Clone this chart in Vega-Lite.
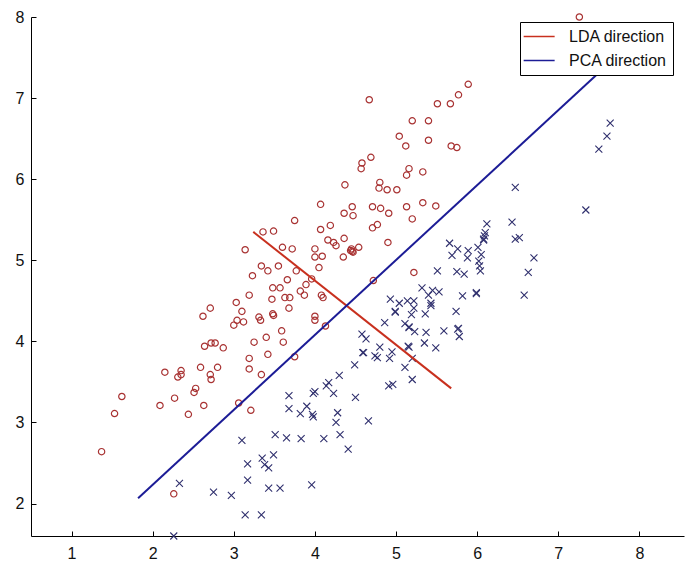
{
  "$schema": "https://vega.github.io/schema/vega-lite/v6.json",
  "width": 653,
  "height": 519,
  "autosize": {"type": "none"},
  "padding": {"left": 31, "top": 17, "right": 1, "bottom": 25},
  "background": "white",
  "config": {
    "view": {"stroke": null},
    "font": "Liberation Sans",
    "axis": {
      "grid": false,
      "domainColor": "#000000",
      "domainWidth": 1,
      "tickColor": "#000000",
      "tickSize": -5,
      "tickWidth": 1,
      "labelColor": "#111111",
      "labelFont": "Liberation Sans",
      "labelFontSize": 16,
      "format": "d",
      "title": null
    }
  },
  "datasets": {
    "red": [
      {"x": 7.26, "y": 8.0}, {"x": 5.89, "y": 7.17}, {"x": 5.77, "y": 7.04}, {"x": 5.67, "y": 6.93}, {"x": 5.51, "y": 6.93},
      {"x": 4.67, "y": 6.98}, {"x": 5.20, "y": 6.72}, {"x": 5.40, "y": 6.72}, {"x": 5.04, "y": 6.53}, {"x": 5.12, "y": 6.41},
      {"x": 5.40, "y": 6.48}, {"x": 5.68, "y": 6.41}, {"x": 5.75, "y": 6.39}, {"x": 4.69, "y": 6.27}, {"x": 4.58, "y": 6.20},
      {"x": 4.57, "y": 6.13}, {"x": 5.16, "y": 6.13}, {"x": 5.33, "y": 6.09}, {"x": 5.13, "y": 6.05}, {"x": 4.37, "y": 5.93},
      {"x": 4.80, "y": 5.96}, {"x": 4.79, "y": 5.89}, {"x": 4.89, "y": 5.87}, {"x": 5.01, "y": 5.87}, {"x": 4.07, "y": 5.69},
      {"x": 4.46, "y": 5.66}, {"x": 4.71, "y": 5.66}, {"x": 4.81, "y": 5.64}, {"x": 5.13, "y": 5.66}, {"x": 5.33, "y": 5.71},
      {"x": 5.49, "y": 5.67}, {"x": 4.36, "y": 5.58}, {"x": 4.47, "y": 5.55}, {"x": 4.91, "y": 5.58}, {"x": 5.20, "y": 5.51},
      {"x": 3.75, "y": 5.49}, {"x": 4.77, "y": 5.44}, {"x": 4.71, "y": 5.40}, {"x": 4.19, "y": 5.43}, {"x": 4.07, "y": 5.38},
      {"x": 3.36, "y": 5.35}, {"x": 3.49, "y": 5.36}, {"x": 3.14, "y": 5.13}, {"x": 3.60, "y": 5.16}, {"x": 3.72, "y": 5.14},
      {"x": 4.00, "y": 5.14}, {"x": 4.16, "y": 5.25}, {"x": 4.23, "y": 5.22}, {"x": 4.26, "y": 5.18}, {"x": 4.36, "y": 5.27},
      {"x": 4.54, "y": 5.16}, {"x": 4.45, "y": 5.14}, {"x": 4.47, "y": 5.10}, {"x": 4.35, "y": 5.04}, {"x": 4.09, "y": 5.05},
      {"x": 4.00, "y": 5.04}, {"x": 4.90, "y": 5.22}, {"x": 3.34, "y": 4.93}, {"x": 3.55, "y": 4.93}, {"x": 3.42, "y": 4.87},
      {"x": 3.23, "y": 4.81}, {"x": 3.77, "y": 4.87}, {"x": 4.05, "y": 4.91}, {"x": 5.22, "y": 4.85}, {"x": 3.66, "y": 4.76},
      {"x": 3.96, "y": 4.77}, {"x": 3.89, "y": 4.70}, {"x": 3.48, "y": 4.66}, {"x": 3.57, "y": 4.66}, {"x": 3.19, "y": 4.57},
      {"x": 3.82, "y": 4.62}, {"x": 3.87, "y": 4.57}, {"x": 4.08, "y": 4.57}, {"x": 4.10, "y": 4.54}, {"x": 3.47, "y": 4.52},
      {"x": 3.63, "y": 4.54}, {"x": 3.69, "y": 4.54}, {"x": 3.03, "y": 4.48}, {"x": 3.68, "y": 4.41}, {"x": 2.71, "y": 4.41},
      {"x": 2.62, "y": 4.31}, {"x": 3.48, "y": 4.34}, {"x": 3.49, "y": 4.32}, {"x": 3.31, "y": 4.30}, {"x": 3.33, "y": 4.26},
      {"x": 3.10, "y": 4.37}, {"x": 3.04, "y": 4.26}, {"x": 4.00, "y": 4.31}, {"x": 4.00, "y": 4.26}, {"x": 3.00, "y": 4.20},
      {"x": 3.12, "y": 4.24}, {"x": 3.59, "y": 4.13}, {"x": 3.40, "y": 4.05}, {"x": 3.25, "y": 3.99}, {"x": 3.61, "y": 3.99},
      {"x": 2.72, "y": 3.98}, {"x": 2.77, "y": 3.98}, {"x": 2.64, "y": 3.94}, {"x": 2.87, "y": 3.92}, {"x": 3.42, "y": 3.84},
      {"x": 3.75, "y": 3.81}, {"x": 3.19, "y": 3.79}, {"x": 2.59, "y": 3.68}, {"x": 2.80, "y": 3.68}, {"x": 3.19, "y": 3.66},
      {"x": 2.15, "y": 3.62}, {"x": 2.35, "y": 3.64}, {"x": 2.35, "y": 3.59}, {"x": 2.31, "y": 3.56}, {"x": 2.71, "y": 3.59},
      {"x": 2.72, "y": 3.53}, {"x": 3.34, "y": 3.59}, {"x": 2.53, "y": 3.42}, {"x": 2.51, "y": 3.37}, {"x": 1.62, "y": 3.32},
      {"x": 2.09, "y": 3.21}, {"x": 2.27, "y": 3.30}, {"x": 2.63, "y": 3.21}, {"x": 2.44, "y": 3.10}, {"x": 1.53, "y": 3.11},
      {"x": 3.06, "y": 3.24}, {"x": 3.21, "y": 3.15}, {"x": 1.37, "y": 2.64}, {"x": 2.26, "y": 2.12}, {"x": 4.72, "y": 4.75},
      {"x": 4.13, "y": 4.19}, {"x": 4.44, "y": 5.12}, {"x": 4.46, "y": 5.11}
    ],
    "blue": [
      {"x": 7.64, "y": 6.69}, {"x": 7.60, "y": 6.53}, {"x": 7.50, "y": 6.37}, {"x": 7.34, "y": 5.62}, {"x": 6.47, "y": 5.90},
      {"x": 6.43, "y": 5.47}, {"x": 6.47, "y": 5.26}, {"x": 6.52, "y": 5.28}, {"x": 6.12, "y": 5.45}, {"x": 6.09, "y": 5.30},
      {"x": 6.08, "y": 5.26}, {"x": 5.66, "y": 5.21}, {"x": 5.76, "y": 5.14}, {"x": 5.69, "y": 5.06}, {"x": 5.89, "y": 5.12},
      {"x": 6.01, "y": 5.16}, {"x": 6.05, "y": 5.07}, {"x": 5.88, "y": 5.03}, {"x": 6.02, "y": 4.99}, {"x": 6.03, "y": 4.93},
      {"x": 6.04, "y": 4.87}, {"x": 6.70, "y": 5.03}, {"x": 6.63, "y": 4.85}, {"x": 6.58, "y": 4.57}, {"x": 5.75, "y": 4.86},
      {"x": 5.84, "y": 4.83}, {"x": 5.51, "y": 4.87}, {"x": 5.32, "y": 4.66}, {"x": 5.45, "y": 4.63}, {"x": 5.53, "y": 4.61},
      {"x": 5.40, "y": 4.57}, {"x": 5.82, "y": 4.56}, {"x": 5.99, "y": 4.60}, {"x": 5.74, "y": 4.37}, {"x": 5.76, "y": 4.15},
      {"x": 5.78, "y": 4.06}, {"x": 5.59, "y": 4.13}, {"x": 5.43, "y": 4.47}, {"x": 5.43, "y": 4.44}, {"x": 5.22, "y": 4.50},
      {"x": 5.14, "y": 4.50}, {"x": 5.04, "y": 4.47}, {"x": 4.93, "y": 4.52}, {"x": 5.22, "y": 4.41}, {"x": 4.99, "y": 4.37},
      {"x": 5.19, "y": 4.33}, {"x": 5.36, "y": 4.34}, {"x": 5.11, "y": 4.22}, {"x": 5.16, "y": 4.18}, {"x": 5.23, "y": 4.12},
      {"x": 5.37, "y": 4.11}, {"x": 5.35, "y": 3.98}, {"x": 5.49, "y": 3.92}, {"x": 5.16, "y": 3.93}, {"x": 4.86, "y": 4.23},
      {"x": 4.58, "y": 4.09}, {"x": 4.63, "y": 4.03}, {"x": 4.59, "y": 3.86}, {"x": 4.80, "y": 3.93}, {"x": 4.74, "y": 3.82},
      {"x": 4.77, "y": 3.80}, {"x": 4.92, "y": 3.79}, {"x": 4.95, "y": 3.87}, {"x": 5.11, "y": 3.68}, {"x": 5.20, "y": 3.53},
      {"x": 4.91, "y": 3.45}, {"x": 4.96, "y": 3.47}, {"x": 5.20, "y": 3.79}, {"x": 4.49, "y": 3.71}, {"x": 4.30, "y": 3.58},
      {"x": 4.17, "y": 3.49}, {"x": 4.14, "y": 3.45}, {"x": 4.23, "y": 3.36}, {"x": 4.00, "y": 3.38}, {"x": 3.98, "y": 3.36},
      {"x": 4.50, "y": 3.31}, {"x": 3.68, "y": 3.33}, {"x": 3.68, "y": 3.17}, {"x": 3.90, "y": 3.20}, {"x": 3.82, "y": 3.11},
      {"x": 3.97, "y": 3.10}, {"x": 3.98, "y": 3.07}, {"x": 4.28, "y": 3.12}, {"x": 4.26, "y": 3.00}, {"x": 4.66, "y": 3.02},
      {"x": 3.51, "y": 2.85}, {"x": 3.65, "y": 2.81}, {"x": 3.83, "y": 2.80}, {"x": 4.11, "y": 2.80}, {"x": 4.31, "y": 2.85},
      {"x": 4.41, "y": 2.67}, {"x": 3.10, "y": 2.78}, {"x": 3.35, "y": 2.56}, {"x": 3.38, "y": 2.48}, {"x": 3.43, "y": 2.44},
      {"x": 3.49, "y": 2.60}, {"x": 3.17, "y": 2.49}, {"x": 3.17, "y": 2.29}, {"x": 3.43, "y": 2.19}, {"x": 3.57, "y": 2.19},
      {"x": 3.96, "y": 2.23}, {"x": 2.33, "y": 2.25}, {"x": 2.75, "y": 2.14}, {"x": 2.97, "y": 2.10}, {"x": 3.14, "y": 1.86},
      {"x": 3.34, "y": 1.86}, {"x": 2.26, "y": 1.60}, {"x": 6.10, "y": 5.34}, {"x": 4.99, "y": 4.36}, {"x": 5.16, "y": 4.17},
      {"x": 5.77, "y": 4.16}, {"x": 5.99, "y": 4.59}, {"x": 4.60, "y": 3.86}, {"x": 5.15, "y": 3.94}, {"x": 6.08, "y": 5.25}
    ],
    "lines": [
      {"name": "LDA direction", "i": 0, "x": 3.24, "y": 5.35},
      {"name": "LDA direction", "i": 1, "x": 5.68, "y": 3.42},
      {"name": "PCA direction", "i": 0, "x": 1.82, "y": 2.065},
      {"name": "PCA direction", "i": 1, "x": 7.8, "y": 7.59}
    ]
  },
  "layer": [
    {
      "data": {"name": "red"},
      "mark": {"type": "point", "shape": "circle", "filled": false, "stroke": "#a83232", "strokeWidth": 1.2, "size": 40, "opacity": 1},
      "encoding": {
        "x": {"field": "x", "type": "quantitative", "scale": {"domain": [0.5, 8.55], "nice": false, "zero": false},
              "axis": {"values": [1, 2, 3, 4, 5, 6, 7, 8], "labelPadding": 14, "labelFontSize": 16}},
        "y": {"field": "y", "type": "quantitative", "scale": {"domain": [1.6, 8], "nice": false, "zero": false},
              "axis": {"values": [2, 3, 4, 5, 6, 7, 8], "labelPadding": 12, "labelFontSize": 16}}
      }
    },
    {
      "data": {"name": "blue"},
      "mark": {"type": "point", "shape": "M-1,-1L1,1M1,-1L-1,1", "filled": false, "stroke": "#30306e", "strokeWidth": 1.1, "size": 49, "opacity": 1},
      "encoding": {
        "x": {"field": "x", "type": "quantitative"},
        "y": {"field": "y", "type": "quantitative"}
      }
    },
    {
      "data": {"name": "lines"},
      "mark": {"type": "line", "strokeWidth": 2},
      "encoding": {
        "x": {"field": "x", "type": "quantitative"},
        "y": {"field": "y", "type": "quantitative"},
        "order": {"field": "i", "type": "quantitative"},
        "color": {
          "field": "name", "type": "nominal",
          "scale": {"domain": ["LDA direction", "PCA direction"], "range": ["#c8301e", "#1c1c96"]},
          "legend": {
            "title": null,
            "orient": "none",
            "legendX": 489,
            "legendY": 5,
            "symbolType": "M-1.4,0H2.6",
            "symbolSize": 240,
            "symbolStrokeWidth": 1.5,
            "labelFontSize": 16,
            "labelFont": "Liberation Sans",
            "labelColor": "#111111",
            "labelOffset": 26,
            "labelExpr": "datum.label + '  '",
            "rowPadding": 7,
            "padding": 6,
            "strokeColor": "#000000",
            "fillColor": "#ffffff",
            "cornerRadius": 0
          }
        }
      }
    }
  ]
}
